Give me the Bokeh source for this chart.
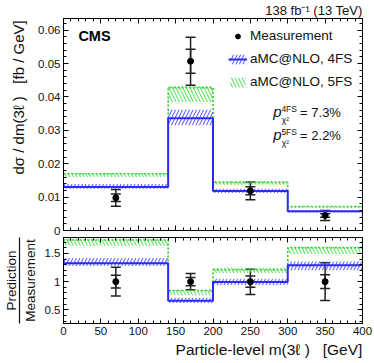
import numpy as np
from bokeh.plotting import figure
from bokeh.models import (ColumnDataSource, Whisker, TeeHead, Label, Legend, LegendItem,
                          LinearAxis, SingleIntervalTicker, NumeralTickFormatter,
                          CustomJSTickFormatter, Range1d)
from bokeh.layouts import column
from bokeh.embed import file_html
from bokeh.resources import INLINE

# ---------------- data ----------------
edges = [0, 140, 200, 300, 400]
centers = [70, 170, 250, 350]
meas = [0.0098, 0.0507, 0.0119, 0.0045]
meas_tot_up = [0.0025, 0.0072, 0.0026, 0.0015]
meas_tot_dn = [0.0025, 0.0072, 0.0027, 0.0015]
meas_stat = [0.0011, 0.0036, 0.0012, 0.00055]
fs4 = [0.0130, 0.0336, 0.0118, 0.0058]
fs4_lo = [0.0125, 0.0315, 0.0112, 0.0054]
fs4_hi = [0.0139, 0.0362, 0.0125, 0.0061]
fs5 = [0.0170, 0.0428, 0.0144, 0.0072]
fs5_lo = [0.0160, 0.0385, 0.0137, 0.0067]
fs5_hi = [0.0172, 0.0432, 0.0148, 0.0073]
p4_text = "= 7.3%"
p5_text = "= 2.2%"

FONT = "Liberation Sans"
BLUE = "#2b2bff"
BLUE_H = "#4a4aff"
GREEN = "#33cc33"
GREEN_H = "#44dd44"
TXT = "#111111"
NB = "\u00a0"

m = np.array(meas)


def sources(scale):
    s = np.asarray(scale)
    band4 = ColumnDataSource(dict(left=edges[:-1], right=edges[1:],
                                  bottom=np.array(fs4_lo) / s, top=np.array(fs4_hi) / s))
    band5 = ColumnDataSource(dict(left=edges[:-1], right=edges[1:],
                                  bottom=np.array(fs5_lo) / s, top=np.array(fs5_hi) / s))
    l4 = list(np.array(fs4) / s)
    l5 = list(np.array(fs5) / s)
    line4 = ColumnDataSource(dict(x=edges, y=l4 + [l4[-1]]))
    line5 = ColumnDataSource(dict(x=edges, y=l5 + [l5[-1]]))
    msrc = ColumnDataSource(dict(
        x=centers, y=m / s,
        tu=(m + np.array(meas_tot_up)) / s, td=(m - np.array(meas_tot_dn)) / s,
        su=(m + np.array(meas_stat)) / s, sd=(m - np.array(meas_stat)) / s))
    return band4, band5, line4, line5, msrc


def style_axis(ax, labels=True, fmt=None):
    ax.major_tick_in = 5
    ax.major_tick_out = 0
    ax.minor_tick_in = 3
    ax.minor_tick_out = 0
    ax.axis_line_color = "black"
    ax.major_tick_line_color = "black"
    ax.minor_tick_line_color = "black"
    ax.major_label_text_font = FONT
    ax.major_label_text_font_size = "11.5px"
    ax.major_label_text_color = TXT
    ax.major_label_standoff = 3
    ax.axis_label_text_font = FONT
    ax.axis_label_text_font_style = "normal"
    ax.axis_label_text_font_size = "15px"
    ax.axis_label_text_color = TXT
    if not labels:
        ax.formatter = CustomJSTickFormatter(code="return ''")
        ax.major_label_standoff = 0
    elif fmt is not None:
        ax.formatter = fmt


def make_fig(height, yr, btop, bbot, yint, yfmt, xlabels):
    p = figure(width=374, height=height, x_range=Range1d(0, 400), y_range=yr,
               output_backend="svg", toolbar_location=None,
               min_border_left=60, min_border_right=12,
               min_border_top=btop, min_border_bottom=bbot)
    p.grid.visible = False
    p.outline_line_color = "black"
    p.background_fill_color = "white"
    p.border_fill_color = "white"
    xt = SingleIntervalTicker(interval=50, num_minor_ticks=5)
    yt = SingleIntervalTicker(interval=yint, num_minor_ticks=5)
    p.xaxis.ticker = xt
    p.yaxis.ticker = yt
    style_axis(p.below[0], xlabels)
    style_axis(p.left[0], True, yfmt)
    top_ax = LinearAxis(ticker=xt)
    right_ax = LinearAxis(ticker=yt)
    style_axis(top_ax, False)
    style_axis(right_ax, False)
    p.add_layout(top_ax, "above")
    p.add_layout(right_ax, "right")
    return p


def draw(p, scale):
    band4, band5, line4, line5, msrc = sources(scale)
    q5 = p.quad(left="left", right="right", bottom="bottom", top="top", source=band5,
                fill_alpha=0, line_alpha=0, hatch_pattern="\\", hatch_color=GREEN_H,
                hatch_scale=7, hatch_weight=1)
    s5 = p.step(x="x", y="y", source=line5, mode="after", line_color=GREEN,
                line_width=1.6, line_dash="2 2")
    q4 = p.quad(left="left", right="right", bottom="bottom", top="top", source=band4,
                fill_alpha=0, line_alpha=0, hatch_pattern="/", hatch_color=BLUE_H,
                hatch_scale=7, hatch_weight=1)
    s4 = p.step(x="x", y="y", source=line4, mode="after", line_color=BLUE, line_width=2)
    for up, lo in (("tu", "td"), ("su", "sd")):
        p.add_layout(Whisker(base="x", upper=up, lower=lo, source=msrc, line_color="#222222",
                             line_width=1.5,
                             upper_head=TeeHead(size=10, line_color="#222222", line_width=1.5),
                             lower_head=TeeHead(size=10, line_color="#222222", line_width=1.5)))
    c = p.scatter(x="x", y="y", source=msrc, size=6, color="black")
    return q4, s4, q5, s5, c, msrc


# ---------------- top panel ----------------
top = make_fig(237, Range1d(0, 0.0635), 15, 7, 0.01, NumeralTickFormatter(format="0.[00]"), False)
q4, s4, q5, s5, c, msrc = draw(top, np.ones(4))

top.title.text = "138 fb\u207b\u00b9 (13 TeV)"
top.title.align = "right"
top.title.text_font = FONT
top.title.text_font_style = "normal"
top.title.text_font_size = "13px"
top.title.text_color = TXT
top.title.standoff = 1

ly = top.left[0]
ly.axis_label = NB * 13 + "d\u03c3 / dm(3\u2113 )" + NB * 3 + "[fb / GeV]"
ly.axis_label_standoff = 8

leg_dot = top.scatter(x="x", y="y", source=msrc, size=6, color="black", visible=False)
leg_bar = top.scatter(x="x", y="y", source=msrc, marker="dash", angle=np.pi / 2, size=14,
                      line_color="black", line_width=1.5, visible=False)
legend = Legend(items=[LegendItem(label="Measurement", renderers=[leg_bar, leg_dot]),
                       LegendItem(label="aMC@NLO, 4FS", renderers=[q4, s4]),
                       LegendItem(label="aMC@NLO, 5FS", renderers=[q5])],
                location=(165, 141), glyph_width=19, glyph_height=12, label_height=15,
                spacing=8, padding=0, margin=0, label_standoff=3,
                border_line_alpha=0, background_fill_alpha=0,
                label_text_font=FONT, label_text_font_size="13.5px", label_text_color=TXT)
top.add_layout(legend)

tfont = dict(text_font=FONT, text_color=TXT)
top.add_layout(Label(x=19.9, y=0.0560, text="CMS", text_font=FONT, text_font_style="bold",
                     text_font_size="14.5px", text_color="black"))
for dy, sup, val in [(0.0, "4FS", p4_text), (-0.00676, "5FS", p5_text)]:
    top.add_layout(Label(x=280.5, y=0.0330 + dy, text="p", text_font_style="italic",
                         text_font_size="15px", **tfont))
    top.add_layout(Label(x=291.5, y=0.03488 + dy, text=sup, text_font_size="8.5px", **tfont))
    top.add_layout(Label(x=292.0, y=0.03160 + dy, text="\u03c7\u00b2", text_font_size="8.5px", **tfont))
    top.add_layout(Label(x=316.5, y=0.0330 + dy, text=val, text_font_size="13px", **tfont))

# ---------------- ratio panel ----------------
bot = make_fig(123, Range1d(0.26, 1.78), 0, 36, 0.5, NumeralTickFormatter(format="0.[0]"), True)
draw(bot, m)

bx = bot.below[0]
bx.axis_label = NB * 26 + "Particle-level m(3\u2113 )" + NB * 3 + "[GeV]"
bx.axis_label_standoff = 3
bx.axis_label_text_font_size = "15.5px"

by = bot.left[0]
by.axis_label = "Measurement"
by.axis_label_standoff = 4
by.axis_label_text_font_size = "13.5px"

outer = LinearAxis(ticker=SingleIntervalTicker(interval=0.5, num_minor_ticks=5))
style_axis(outer, False)
outer.major_tick_line_color = None
outer.minor_tick_line_color = None
outer.axis_line_color = "#111111"
outer.axis_line_width = 1.2
outer.axis_label = "Prediction"
outer.axis_label_standoff = 1
outer.axis_label_text_font_size = "13.5px"
bot.add_layout(outer, "left")

layout = column(top, bot)

open("out.html", "w").write(file_html(layout, INLINE))
